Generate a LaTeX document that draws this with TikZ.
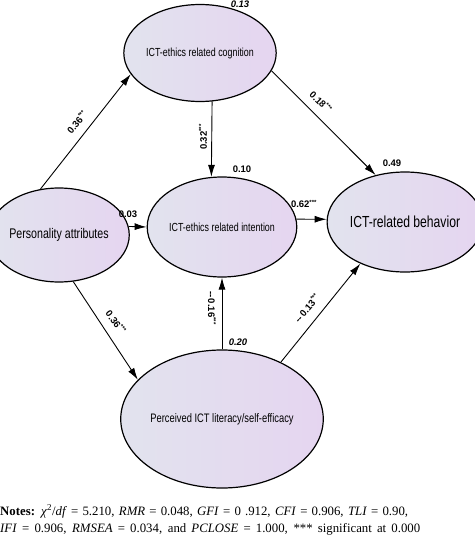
\documentclass[tikz,border=0pt]{standalone}
\usepackage{fontspec}
\setmainfont{Liberation Serif}
\newfontfamily\nodefont[FakeStretch=0.76]{Liberation Sans}
\newfontfamily\labfont{Liberation Sans}
\usetikzlibrary{shapes.geometric,arrows.meta}
\definecolor{fillL}{RGB}{226,227,238}
\definecolor{fillR}{RGB}{229,213,240}
\tikzset{
  latent/.style={ellipse, draw=black, line width=1.2pt, inner sep=0pt,
    left color=fillL, right color=fillR, align=center},
  path/.style={line width=0.9pt, -{Latex[length=12pt,width=7pt]}},
  coef/.style={font=\labfont\bfseries\fontsize{9.5}{11}\selectfont, inner sep=1pt},
  rsq/.style={font=\labfont\bfseries\fontsize{9.5}{11}\selectfont, inner sep=1pt},
  rsqi/.style={font=\labfont\bfseries\itshape\fontsize{9.5}{11}\selectfont, inner sep=1pt},
  note/.style={anchor=base west, inner sep=0pt, font=\fontsize{12.8}{15}\selectfont},
}
\newcommand{\sig}{\textsuperscript{\fontsize{6}{6}\selectfont ***}}
\begin{document}
\begin{tikzpicture}[x=1pt,y=-1pt]
\useasboundingbox (0,0) rectangle (474,535);
\node[latent, minimum width=134pt, minimum height=97pt,
  font=\nodefont\fontsize{11.7}{13}\selectfont] (cog) at (200,53) {ICT-ethics related cognition};
\node[latent, minimum width=134pt, minimum height=100pt,
  font=\nodefont\fontsize{11.7}{13}\selectfont] (int) at (222,227) {ICT-ethics related intention};
\node[latent, minimum width=116pt, minimum height=94pt,
  font=\nodefont\fontsize{14}{16}\selectfont] (per) at (59,235) {Personality attributes};
\node[latent, minimum width=134pt, minimum height=100pt,
  font=\nodefont\fontsize{16}{18}\selectfont] (beh) at (405,222) {ICT-related behavior};
\node[latent, minimum width=160pt, minimum height=138pt,
  font=\nodefont\fontsize{12.3}{14}\selectfont] (pict) at (222,419) {Perceived ICT literacy/self-efficacy};

\draw[path] (per.112) -- (cog.197.6);
\draw[path] (cog.-76) -- (int.102);
\draw[path] (cog.-14.4) -- (beh.122);
\draw[path] (per.7) -- (int.180);
\draw[path] (int.6) -- (beh.178.3);
\draw[path] (per.-73) -- (pict.155.7);
\draw[path] (pict.north) -- (int.south);
\draw[path] (pict.44.5) -- (beh.223.6);

\node[coef, rotate=50] (l1) at (77,122) {0.36\sig};
\node[coef, rotate=90] (l2) at (203,137) {0.32\sig};
\node[coef, rotate=-44] (l3) at (321,102) {0.18\sig};
\node[coef] (l4) at (128,214) {0.03};
\node[coef] (l5) at (304,204) {0.62\sig};
\node[coef, rotate=-53] (l6) at (116,322) {0.36\sig};
\node[coef, rotate=-90] (l7) at (212,308) {--\,0.16\sig};
\node[coef, rotate=50] (l8) at (307,308) {--\,0.13\sig};

\node[rsqi] (r1) at (240,4) {0.13};
\node[rsq] (r2) at (242,169) {0.10};
\node[rsq] (r3) at (392,163) {0.49};
\node[rsqi] (r4) at (238,342) {0.20};

\node[note] (n1) at (0,515)
  {\makebox[408pt][s]{\textbf{Notes:} \textit{χ}\textsuperscript{2}/\textit{df} = 5.210, \textit{RMR} = 0.048, \textit{GFI} = 0 .912, \textit{CFI} = 0.906, \textit{TLI} = 0.90,}};
\node[note] (n2) at (0,532)
  {\makebox[420pt][s]{\textit{IFI} = 0.906, \textit{RMSEA} = 0.034, and \textit{PCLOSE} = 1.000, *** significant at 0.000}};
\end{tikzpicture}
\end{document}
